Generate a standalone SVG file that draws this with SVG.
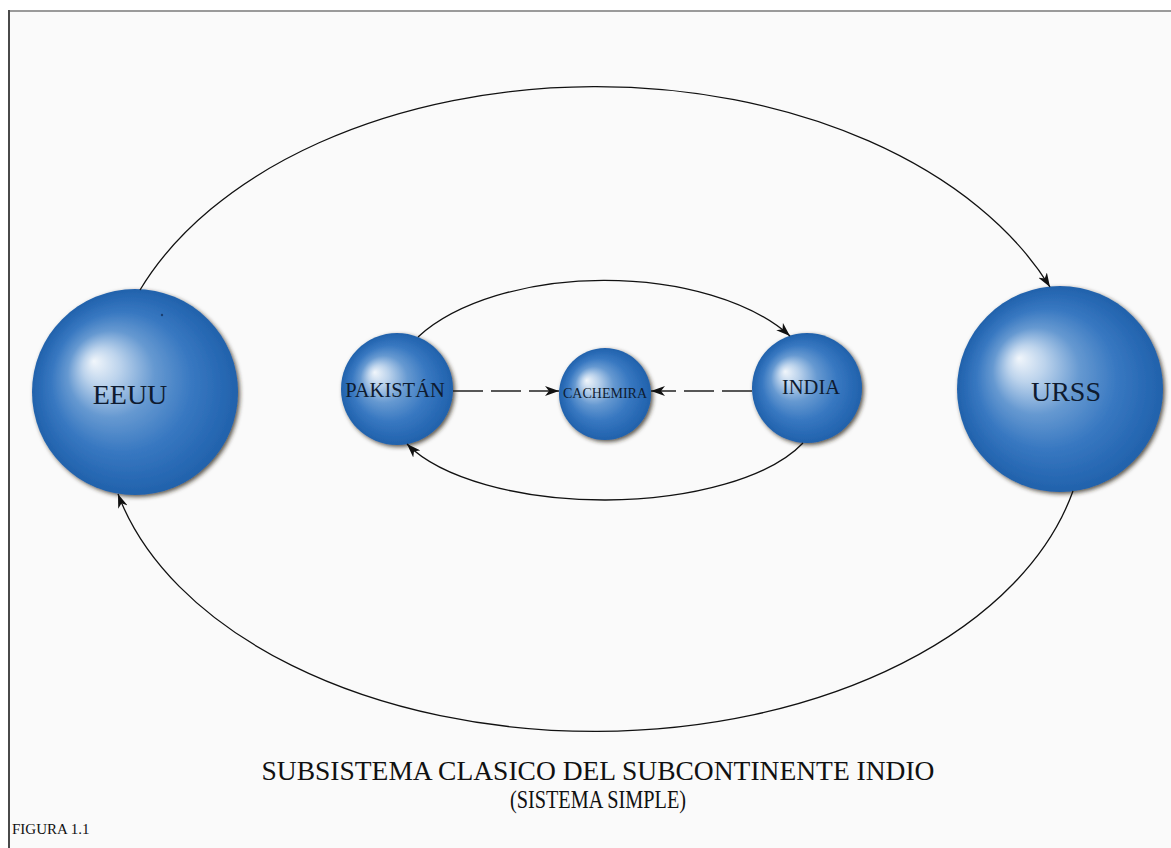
<svg xmlns="http://www.w3.org/2000/svg" width="1171" height="848" viewBox="0 0 1171 848">
  <style>
    .frame { fill: #fafafa; }
    .edge-top { stroke: #9a9a9a; stroke-width: 2; }
    .edge-left { stroke: #4a4a4a; stroke-width: 2; }
    .ball { fill: url(#ballGrad); filter: url(#ballShade); }
    .label { font-family: "Liberation Serif", "Times New Roman", serif; fill: #0e1b30; text-anchor: middle; }
    .link { fill: none; stroke: #111; stroke-width: 1.3; }
    .dash { fill: none; stroke: #222; stroke-width: 1.6; stroke-dasharray: 30 8; }
    .caption { font-family: "Liberation Serif", "Times New Roman", serif; fill: #111; }
  </style>
  <defs>
    <radialGradient id="ballGrad" cx="0.5" cy="0.5" r="0.5" fx="0.3" fy="0.35">
      <stop offset="0" stop-color="#f1f6fb"/>
      <stop offset="0.18" stop-color="#bcd3ec"/>
      <stop offset="0.42" stop-color="#6699d1"/>
      <stop offset="0.68" stop-color="#3878c1"/>
      <stop offset="0.9" stop-color="#2768b3"/>
      <stop offset="1" stop-color="#2262ab"/>
    </radialGradient>
    <filter id="ballShade" x="-20%" y="-20%" width="140%" height="140%">
      <feGaussianBlur in="SourceAlpha" stdDeviation="2.2" result="b"/>
      <feOffset in="b" dx="2" dy="2" result="o"/>
      <feFlood flood-color="#2a2418" flood-opacity="0.75"/>
      <feComposite in2="o" operator="in" result="s"/>
      <feGaussianBlur in="SourceGraphic" stdDeviation="0.6" result="g"/>
      <feMerge>
        <feMergeNode in="s"/>
        <feMergeNode in="g"/>
      </feMerge>
    </filter>
    <marker id="head" viewBox="0 0 14 10" refX="14" refY="5" markerWidth="14" markerHeight="10" markerUnits="userSpaceOnUse" orient="auto">
      <path d="M0,0 L14,5 L0,10 L4,5 Z" fill="#111"/>
    </marker>
  </defs>

  <!-- page and frame -->
  <rect x="0" y="0" width="1171" height="848" fill="#ffffff"/>
  <rect class="frame" x="9" y="11" width="1162" height="837"/>
  <line class="edge-top" x1="8" y1="11" x2="1171" y2="11"/>
  <line class="edge-left" x1="9" y1="10" x2="9" y2="848"/>

  <!-- nodes -->
  <g id="eeuu">
    <circle class="ball" cx="135" cy="392" r="103"/>
    <circle cx="162" cy="315" r="1.2" fill="#1a3f70"/>
    <text class="label" x="130" y="404" font-size="28">EEUU</text>
  </g>
  <g id="urss">
    <circle class="ball" cx="1060" cy="389" r="103"/>
    <text class="label" x="1066" y="401" font-size="28">URSS</text>
  </g>
  <g id="pakistan">
    <circle class="ball" cx="397" cy="389" r="56"/>
    <text class="label" x="395" y="397" font-size="20.5">PAKISTÁN</text>
  </g>
  <g id="cachemira">
    <circle class="ball" cx="605" cy="394" r="46"/>
    <text class="label" x="605" y="398" font-size="14">CACHEMIRA</text>
  </g>
  <g id="india">
    <circle class="ball" cx="807" cy="388" r="55"/>
    <text class="label" x="811" y="394" font-size="20.5">INDIA</text>
  </g>

  <!-- connectors -->
  <g id="connectors">
    <path class="link" d="M140,290 A490,321 0 0 1 1050,287" marker-end="url(#head)"/>
    <path class="link" d="M1073,491 A490,308 0 0 1 118,494" marker-end="url(#head)"/>
    <path class="link" d="M418,337 A214,111 0 0 1 790,336" marker-end="url(#head)"/>
    <path class="link" d="M803,443 A214,91 0 0 1 407,444" marker-end="url(#head)"/>
    <path class="dash" d="M453,391 L559,391" marker-end="url(#head)"/>
    <path class="dash" d="M752,391 L651,391" stroke-width="2" marker-end="url(#head)"/>
  </g>

  <!-- captions -->
  <text class="caption" x="598" y="780" font-size="28" text-anchor="middle" textLength="673" lengthAdjust="spacingAndGlyphs">SUBSISTEMA CLASICO DEL SUBCONTINENTE INDIO</text>
  <text class="caption" x="598" y="808" font-size="25" text-anchor="middle" textLength="176" lengthAdjust="spacingAndGlyphs">(SISTEMA SIMPLE)</text>
  <text class="caption" x="12" y="834" font-size="15">FIGURA 1.1</text>
</svg>
